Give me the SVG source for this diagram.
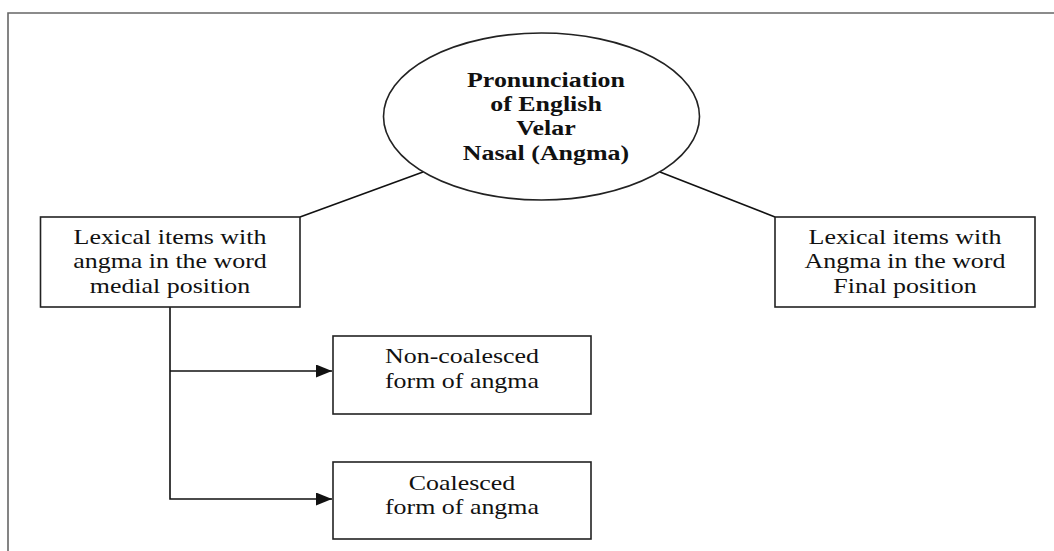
<svg xmlns="http://www.w3.org/2000/svg" width="1054" height="551" viewBox="0 0 1054 551">
<style>
.frame{fill:none;stroke:#666;stroke-width:1.6}
.box{fill:#fff;stroke:#222;stroke-width:1.6}
.conn{fill:none;stroke:#111;stroke-width:1.6}
.t{font-family:"Liberation Serif","Times New Roman",serif;font-size:21px;fill:#111;text-anchor:middle}
.b{font-weight:bold}
</style>
<defs>
<marker id="arr" markerUnits="userSpaceOnUse" markerWidth="17" markerHeight="13" refX="16" refY="6.5" orient="auto">
<path d="M0,0 L16,6.5 L0,13 Z" fill="#111"/>
</marker>
</defs>
<path class="frame" d="M8,551 V13 H1054"/>
<g id="connectors">
<path class="conn" d="M300,217 L423,172"/>
<path class="conn" d="M660,172 L775,217"/>
<path class="conn" d="M170,307 V499 H332" marker-end="url(#arr)"/>
<path class="conn" d="M170,371 H332" marker-end="url(#arr)"/>
</g>
<g id="root">
<ellipse class="box" cx="541.5" cy="116.5" rx="158" ry="83.5"/>
<g transform="translate(546,0) scale(1.235,1)">
<text class="t b" x="0" y="87">Pronunciation</text>
<text class="t b" x="0" y="111">of English</text>
<text class="t b" x="0" y="135">Velar</text>
<text class="t b" x="0" y="160">Nasal (Angma)</text>
</g>
</g>
<g id="medial">
<rect class="box" x="40.5" y="217" width="259.5" height="90"/>
<g transform="translate(170,0) scale(1.235,1)">
<text class="t" x="0" y="244">Lexical items with</text>
<text class="t" x="0" y="268">angma in the word</text>
<text class="t" x="0" y="293">medial position</text>
</g>
</g>
<g id="final">
<rect class="box" x="775" y="217" width="260" height="90"/>
<g transform="translate(905,0) scale(1.235,1)">
<text class="t" x="0" y="244">Lexical items with</text>
<text class="t" x="0" y="268">Angma in the word</text>
<text class="t" x="0" y="293">Final position</text>
</g>
</g>
<g id="noncoalesced">
<rect class="box" x="333" y="336" width="258" height="78"/>
<g transform="translate(462,0) scale(1.235,1)">
<text class="t" x="0" y="363">Non-coalesced</text>
<text class="t" x="0" y="388">form of angma</text>
</g>
</g>
<g id="coalesced">
<rect class="box" x="333" y="462" width="258" height="77"/>
<g transform="translate(462,0) scale(1.235,1)">
<text class="t" x="0" y="490">Coalesced</text>
<text class="t" x="0" y="514">form of angma</text>
</g>
</g>
</svg>
